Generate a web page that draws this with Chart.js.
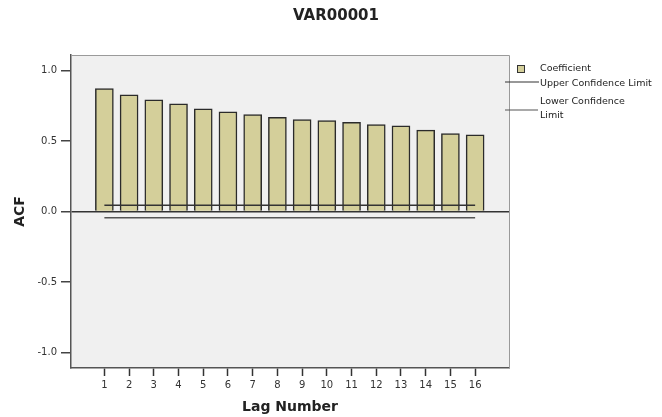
<!DOCTYPE html>
<html>
<head>
<meta charset="utf-8">
<script src="https://cdn.jsdelivr.net/npm/chart.js@4.4.0/dist/chart.umd.min.js"></script>
<style>
  html, body { margin: 0; padding: 0; background: #fff; }
</style>
</head>
<body>
<canvas id="acf" width="662" height="417"></canvas>
<script>
// ACF values
const lags = [1, 2, 3, 4, 5, 6, 7, 8, 9, 10, 11, 12, 13, 14, 15, 16];
const acfValues = [0.872, 0.828, 0.792, 0.764, 0.728, 0.707, 0.688, 0.668, 0.652, 0.645, 0.633, 0.617, 0.608, 0.577, 0.553, 0.544];
const upperLimit = [0.045, 0.045, 0.045, 0.045, 0.045, 0.045, 0.045, 0.045, 0.045, 0.045, 0.045, 0.045, 0.045, 0.045, 0.045, 0.045];
const lowerLimit = [-0.045, -0.045, -0.045, -0.045, -0.045, -0.045, -0.045, -0.045, -0.045, -0.045, -0.045, -0.045, -0.045, -0.045, -0.045, -0.045];
const yTicks = [-1.0, -0.5, 0.0, 0.5, 1.0];

const BAR_COLOR = "#D4CF9A";
const FONT = "DejaVu Sans";

Chart.defaults.font.family = FONT;

// background, frame, title and the legend drawn by hand (SPSS style)
const spssLook = {
  id: "spssLook",
  beforeDraw(chart) {
    const { ctx, chartArea: a } = chart;
    ctx.save();
    ctx.fillStyle = "#F0F0F0";
    ctx.fillRect(a.left, a.top, a.right - a.left, a.bottom - a.top);
    ctx.restore();
  },
  afterDraw(chart) {
    const { ctx, chartArea: a } = chart;
    ctx.save();
    // top and right edges of the frame
    ctx.strokeStyle = "#9a9a9a";
    ctx.lineWidth = 1;
    ctx.beginPath();
    ctx.moveTo(a.left, a.top + 0.5);
    ctx.lineTo(a.right + 0.5, a.top + 0.5);
    ctx.lineTo(a.right + 0.5, a.bottom);
    ctx.stroke();

    // title
    ctx.fillStyle = "#222";
    ctx.font = "bold 15px " + FONT;
    ctx.textAlign = "center";
    ctx.textBaseline = "middle";
    ctx.fillText("VAR00001", 336, 16);

    // legend
    ctx.font = "9.5px " + FONT;
    ctx.textAlign = "left";
    ctx.fillStyle = BAR_COLOR;
    ctx.fillRect(517.5, 65.5, 7, 7);
    ctx.strokeStyle = "#333";
    ctx.lineWidth = 1;
    ctx.strokeRect(517.5, 65.5, 7, 7);
    ctx.fillStyle = "#222";
    ctx.fillText("Coefficient", 540, 69);

    ctx.strokeStyle = "#333";
    ctx.lineWidth = 1.2;
    ctx.beginPath();
    ctx.moveTo(505, 82);
    ctx.lineTo(539, 82);
    ctx.stroke();
    ctx.fillText("Upper Confidence Limit", 540, 84);

    ctx.strokeStyle = "#555";
    ctx.beginPath();
    ctx.moveTo(505, 110);
    ctx.lineTo(538, 110);
    ctx.stroke();
    ctx.fillText("Lower Confidence", 540, 102);
    ctx.fillText("Limit", 540, 116);
    ctx.restore();
  }
};

const ctx = document.getElementById("acf").getContext("2d");

new Chart(ctx, {
  type: "bar",
  data: {
    datasets: [
      {
        type: "line",
        label: "Upper Confidence Limit",
        data: lags.map((l, i) => ({ x: l, y: upperLimit[i] })),
        borderColor: "#333",
        borderWidth: 1.5,
        pointRadius: 0,
        fill: false,
        order: 1,
      },
      {
        type: "line",
        label: "Lower Confidence Limit",
        data: lags.map((l, i) => ({ x: l, y: lowerLimit[i] })),
        borderColor: "#555",
        borderWidth: 1.5,
        pointRadius: 0,
        fill: false,
        order: 1,
      },
      {
        label: "Coefficient",
        data: lags.map((l, i) => ({ x: l, y: acfValues[i] })),
        backgroundColor: BAR_COLOR,
        borderColor: "#2b2b2b",
        borderWidth: 1.5,
        barThickness: 18,
        order: 2,
      },
    ],
  },
  options: {
    responsive: false,
    animation: false,
    devicePixelRatio: 1,
    layout: {
      padding: { top: 55, right: 153, left: 0, bottom: 0 },
    },
    plugins: {
      legend: { display: false },
      tooltip: { enabled: false },
    },
    scales: {
      x: {
        type: "linear",
        offset: false,
        min: -0.35,
        max: 17.37,
        afterBuildTicks: (s) => { s.ticks = lags.map((v) => ({ value: v })); },
        afterFit: (s) => { s.height = 49; },
        grid: { offset: false, drawOnChartArea: false, tickLength: 8, tickColor: "#333", tickWidth: 1.5 },
        border: { color: "#555", width: 1.5 },
        ticks: { color: "#333", font: { size: 10 }, padding: 3, maxRotation: 0, autoSkip: false },
        title: {
          display: true,
          text: "Lag Number",
          color: "#222",
          font: { size: 14, weight: "bold" },
          padding: { top: 0, bottom: 1 },
        },
      },
      y: {
        min: -1.11,
        max: 1.11,
        afterBuildTicks: (s) => { s.ticks = yTicks.map((v) => ({ value: v })); },
        afterFit: (s) => { s.width = 71; },
        grid: {
          color: (c) => (c.tick && c.tick.value === 0 ? "#333" : "rgba(0,0,0,0)"),
          lineWidth: 1.5,
          tickColor: "#444",
          tickLength: 10,
        },
        border: { color: "#555", width: 1.5 },
        ticks: {
          color: "#333",
          font: { size: 10 },
          padding: 4,
          callback: (v) => Number(v).toFixed(1),
        },
        title: {
          display: true,
          text: "ACF",
          color: "#222",
          font: { size: 14, weight: "bold" },
          padding: { top: 12, bottom: 0 },
        },
      },
    },
  },
  plugins: [spssLook],
});
</script>
</body>
</html>
